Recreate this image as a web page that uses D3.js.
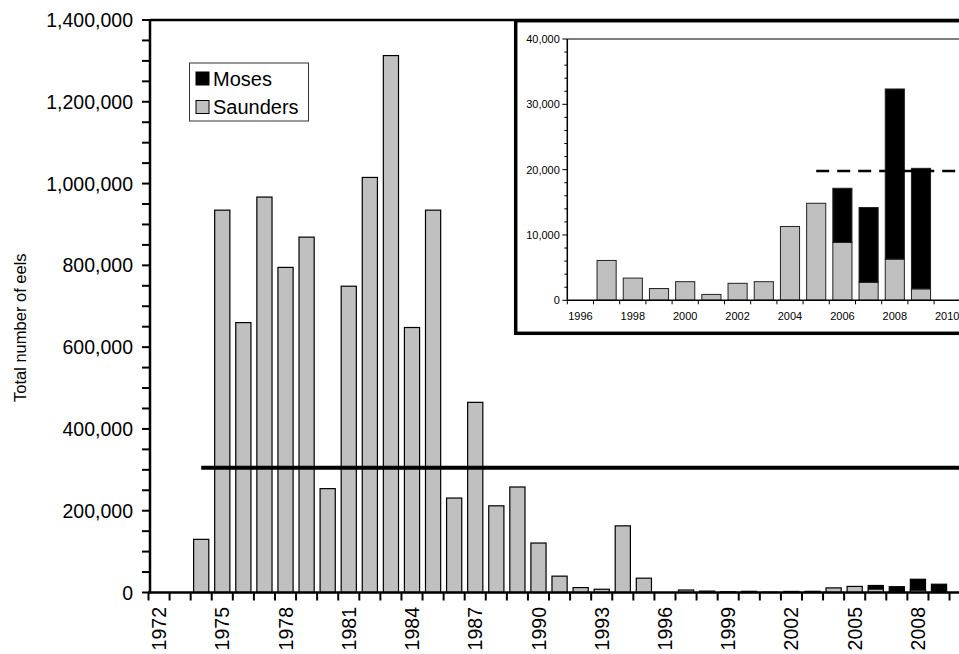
<!DOCTYPE html>
<html>
<head>
<meta charset="utf-8">
<script src="https://cdn.jsdelivr.net/npm/d3@7"></script>
<style>
  html, body { margin: 0; padding: 0; background: #fff; }
  svg { display: block; font-family: 'Liberation Sans', Arial, sans-serif; }
</style>
</head>
<body>
<div id="chart"></div>
<script>
// yearly catch, 1972-2009
const years = d3.range(1972, 2010);
const saunders = [
  0, 0, 130000, 935000, 660000, 967000, 795000, 869000, 254000, 749000,
  1015000, 1313000, 648000, 935000, 231000, 465000, 212000, 258000, 121000, 40000,
  12000, 8000, 163000, 35000, 0, 6100, 3400, 1800, 2850, 900,
  2600, 2850, 11300, 14850, 8850, 2750, 6300, 1750
];
const moses = [
  0, 0, 0, 0, 0, 0, 0, 0, 0, 0,
  0, 0, 0, 0, 0, 0, 0, 0, 0, 0,
  0, 0, 0, 0, 0, 0, 0, 0, 0, 0,
  0, 0, 0, 0, 8300, 11450, 26050, 18450
];
const seriesNames = ['Saunders', 'Moses'];
const seriesColors = { Saunders: '#c0c0c0', Moses: '#000000' };
const legendOrder = ['Moses', 'Saunders'];

const mainYTicks = d3.range(0, 1400001, 200000);
const mainYMinor = d3.range(0, 1400001, 50000);
const mainXLabels = d3.range(1972, 2010, 3);
const mainRefLine = 305000;

const insetYears = d3.range(1996, 2011);
const insetYTicks = [0, 10000, 20000, 30000, 40000];
const insetYMinor = d3.range(0, 40001, 2000);
const insetXLabels = d3.range(1996, 2011, 2);
const insetRefLine = 19800;

const width = 959;
const height = 654;

const rows = years.map((y, i) => ({ year: y, Saunders: saunders[i], Moses: moses[i] }));
const stacked = d3.stack().keys(seriesNames)(rows);

const svg = d3.select('#chart')
  .append('svg')
  .attr('width', width)
  .attr('height', height)
  .attr('viewBox', `0 0 ${width} ${height}`);

// ---------- main chart ----------
const x = d3.scaleBand()
  .domain(d3.range(1972, 2011))
  .range([148.5, 148.5 + 39 * 21.08])
  .paddingInner(0.28)
  .paddingOuter(0.14);
const y = d3.scaleLinear().domain([0, 1400000]).range([592.5, 20]);
const step = x.step();
const x0 = x.range()[0];

// plot top border
svg.append('line')
  .attr('x1', 150).attr('x2', 980)
  .attr('y1', y(1400000)).attr('y2', y(1400000))
  .attr('stroke', '#000').attr('stroke-width', 2.5);

// bars
svg.append('g')
  .selectAll('g')
  .data(stacked)
  .join('g')
  .attr('fill', (d) => seriesColors[d.key])
  .selectAll('rect')
  .data((d) => d.filter((p) => p[1] - p[0] > 0))
  .join('rect')
  .attr('x', (d) => x(d.data.year))
  .attr('width', x.bandwidth())
  .attr('y', (d) => y(d[1]))
  .attr('height', (d) => y(d[0]) - y(d[1]))
  .attr('stroke', '#000')
  .attr('stroke-width', 1.2);

// reference line
svg.append('line')
  .attr('x1', x(1974) + x.bandwidth() / 2).attr('x2', 980)
  .attr('y1', y(mainRefLine)).attr('y2', y(mainRefLine))
  .attr('stroke', '#000').attr('stroke-width', 4);

// y axis
const yAxis = svg.append('g');
yAxis.selectAll('line.minor')
  .data(mainYMinor)
  .join('line')
  .attr('class', 'minor')
  .attr('x1', 142).attr('x2', 150)
  .attr('y1', (d) => y(d)).attr('y2', (d) => y(d))
  .attr('stroke', '#000').attr('stroke-width', 2);
yAxis.selectAll('text')
  .data(mainYTicks)
  .join('text')
  .attr('x', 133)
  .attr('y', (d) => y(d))
  .attr('dy', '0.36em')
  .attr('text-anchor', 'end')
  .attr('font-size', 19.5)
  .attr('fill', '#000')
  .text((d) => d3.format(',')(d));
yAxis.append('line')
  .attr('x1', 150).attr('x2', 150)
  .attr('y1', y(1400000)).attr('y2', y(0) + 1)
  .attr('stroke', '#000').attr('stroke-width', 2.5);

// x axis
const xAxis = svg.append('g');
xAxis.selectAll('line')
  .data(d3.range(0, 40))
  .join('line')
  .attr('x1', (i) => x0 + i * step).attr('x2', (i) => x0 + i * step)
  .attr('y1', y(0)).attr('y2', y(0) + 8)
  .attr('stroke', '#000').attr('stroke-width', 2);
xAxis.append('line')
  .attr('x1', 148).attr('x2', 980)
  .attr('y1', y(0)).attr('y2', y(0))
  .attr('stroke', '#000').attr('stroke-width', 2.5);
xAxis.selectAll('text')
  .data(mainXLabels)
  .join('text')
  .attr('transform', (d) => `translate(${x(d) + x.bandwidth() / 2},607) rotate(-90)`)
  .attr('dy', '0.36em')
  .attr('text-anchor', 'end')
  .attr('font-size', 19.5)
  .attr('fill', '#000')
  .text((d) => d);

// y title
svg.append('text')
  .attr('transform', 'translate(26,402) rotate(-90)')
  .attr('text-anchor', 'start')
  .attr('font-size', 16.5)
  .attr('fill', '#000')
  .text('Total number of eels');

// legend
const legend = svg.append('g').attr('transform', 'translate(189.5,63)');
legend.append('rect')
  .attr('width', 119).attr('height', 58)
  .attr('fill', '#fff').attr('stroke', '#333').attr('stroke-width', 1);
legendOrder.forEach((name, i) => {
  legend.append('rect')
    .attr('x', 6.5).attr('y', 9 + i * 28.5)
    .attr('width', 13).attr('height', 13)
    .attr('fill', seriesColors[name])
    .attr('stroke', '#000').attr('stroke-width', 1);
  legend.append('text')
    .attr('x', 23.5).attr('y', 22.5 + i * 28.5)
    .attr('font-size', 20)
    .attr('fill', '#000')
    .text(name);
});

// ---------- inset ----------
const inset = svg.append('g');
inset.append('rect')
  .attr('x', 515.7).attr('y', 20.7)
  .attr('width', 520).attr('height', 312.6)
  .attr('fill', '#fff')
  .attr('stroke', '#000').attr('stroke-width', 3.5);

const xi = d3.scaleBand()
  .domain(insetYears)
  .range([567.3, 567.3 + 15 * 26.2])
  .paddingInner(0.27)
  .paddingOuter(0.135);
const yi = d3.scaleLinear().domain([0, 40000]).range([300.3, 39]);
const stepI = xi.step();
const xi0 = xi.range()[0];

const insetRows = rows.filter((r) => r.year >= 1996);
const insetStacked = d3.stack().keys(seriesNames)(insetRows);

// top border of inset plot
inset.append('line')
  .attr('x1', xi0).attr('x2', 980)
  .attr('y1', yi(40000)).attr('y2', yi(40000))
  .attr('stroke', '#555').attr('stroke-width', 1.5);

inset.append('g')
  .selectAll('g')
  .data(insetStacked)
  .join('g')
  .attr('fill', (d) => seriesColors[d.key])
  .selectAll('rect')
  .data((d) => d.filter((p) => p[1] - p[0] > 0))
  .join('rect')
  .attr('x', (d) => xi(d.data.year))
  .attr('width', xi.bandwidth())
  .attr('y', (d) => yi(d[1]))
  .attr('height', (d) => yi(d[0]) - yi(d[1]))
  .attr('stroke', '#222')
  .attr('stroke-width', 1);

// dashed target line
inset.append('line')
  .attr('x1', xi(2005) + xi.bandwidth() / 2).attr('x2', 980)
  .attr('y1', yi(insetRefLine)).attr('y2', yi(insetRefLine))
  .attr('stroke', '#000').attr('stroke-width', 2.5)
  .attr('stroke-dasharray', '13 8');

// inset y axis
inset.selectAll('line.iminor')
  .data(insetYMinor)
  .join('line')
  .attr('class', 'iminor')
  .attr('x1', (d) => (d % 10000 === 0 ? xi0 - 5 : xi0 - 3)).attr('x2', xi0)
  .attr('y1', (d) => yi(d)).attr('y2', (d) => yi(d))
  .attr('stroke', '#000').attr('stroke-width', 1);
inset.selectAll('text.iy')
  .data(insetYTicks)
  .join('text')
  .attr('class', 'iy')
  .attr('x', xi0 - 7.5)
  .attr('y', (d) => yi(d))
  .attr('dy', '0.36em')
  .attr('text-anchor', 'end')
  .attr('font-size', 11)
  .attr('fill', '#000')
  .text((d) => d3.format(',')(d));
inset.append('line')
  .attr('x1', xi0).attr('x2', xi0)
  .attr('y1', yi(40000)).attr('y2', yi(0))
  .attr('stroke', '#000').attr('stroke-width', 1.5);

// inset x axis
inset.selectAll('line.ix')
  .data(d3.range(0, 16))
  .join('line')
  .attr('class', 'ix')
  .attr('x1', (i) => xi0 + i * stepI).attr('x2', (i) => xi0 + i * stepI)
  .attr('y1', yi(0)).attr('y2', yi(0) + 4)
  .attr('stroke', '#000').attr('stroke-width', 1);
inset.append('line')
  .attr('x1', xi0).attr('x2', 980)
  .attr('y1', yi(0)).attr('y2', yi(0))
  .attr('stroke', '#000').attr('stroke-width', 1.5);
inset.selectAll('text.ixl')
  .data(insetXLabels)
  .join('text')
  .attr('class', 'ixl')
  .attr('x', (d) => xi(d) + xi.bandwidth() / 2)
  .attr('y', 320)
  .attr('text-anchor', 'middle')
  .attr('font-size', 11)
  .attr('fill', '#000')
  .text((d) => d);
</script>
</body>
</html>
